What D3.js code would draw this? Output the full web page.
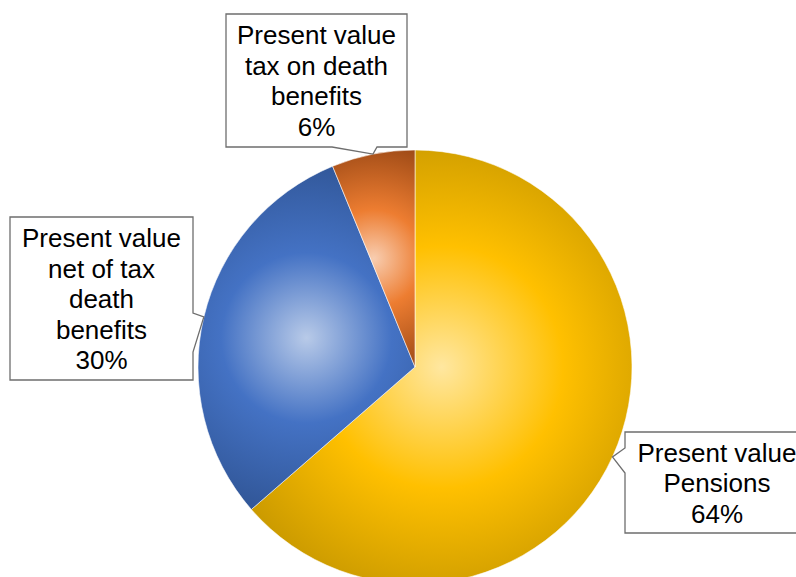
<!DOCTYPE html>
<html>
<head>
<meta charset="utf-8">
<script src="https://cdn.jsdelivr.net/npm/d3@7"></script>
<style>
  html, body { margin: 0; padding: 0; background: #fff; overflow: hidden; }
  svg { display: block; }
</style>
</head>
<body>
<div id="chart"></div>
<script>
// data
const categories = ["Pensions", "Net of tax death benefits", "Tax on death benefits"];
const values = [63.6, 30.2, 6.2];
const labelLines = [
    ["Present value", "Pensions"],
    ["Present value", "net of tax", "death", "benefits"],
    ["Present value", "tax on death", "benefits"]
];
const lightColors = ["#FFE7A0", "#B8CAE8", "#F8CDB0"];
const midColors = ["#FFC000", "#4472C4", "#ED7D31"];
const darkColors = ["#B48A00", "#2C4F8C", "#9E4A16"];

// callout boxes: [x, y, w, h], side with pointer, pointer base along that side
const callouts = [
    { box: [625, 432, 184, 101], side: "left", wedge: [448, 473] },
    { box: [10, 217, 183, 163], side: "right", wedge: [313, 352] },
    { box: [226, 14, 181, 133], side: "bottom", wedge: [332, 377] }
];

const width = 796, height = 577;
const cx = 415, cy = 367, radius = 217;

const svg = d3.select("#chart").append("svg")
    .attr("width", width).attr("height", height);
const defs = svg.append("defs");

const pie = d3.pie().sort(null).value(d => d);
const arcs = pie(values);
const arc = d3.arc().innerRadius(0).outerRadius(radius);

const g = svg.append("g").attr("transform", `translate(${cx},${cy})`);

// slices, each with its own radial gradient centred on the slice's bounding box
const slices = g.selectAll("path").data(arcs).enter().append("path")
    .attr("d", arc)
    .attr("stroke", "#ffffff").attr("stroke-width", 0.7).attr("stroke-opacity", 0.8);

slices.each(function(d, i) {
    const bb = this.getBBox();
    const gx = bb.x + bb.width / 2, gy = bb.y + bb.height / 2;
    const gr = Math.sqrt(bb.width * bb.width + bb.height * bb.height) / 2;
    const grad = defs.append("radialGradient")
        .attr("id", "grad" + i)
        .attr("gradientUnits", "userSpaceOnUse")
        .attr("cx", gx).attr("cy", gy).attr("r", gr)
        .attr("fx", gx).attr("fy", gy);
    grad.append("stop").attr("offset", "0%").attr("stop-color", lightColors[i]);
    grad.append("stop").attr("offset", "42%").attr("stop-color", midColors[i]);
    grad.append("stop").attr("offset", "100%").attr("stop-color", darkColors[i]);
    d3.select(this).attr("fill", `url(#grad${i})`);
});

// callout labels
const fmt = d3.format(".0%");
const total = d3.sum(values);
const lineH = 30.5;

arcs.forEach((d, i) => {
    const c = callouts[i];
    const [x, y, w, h] = c.box;
    const mid = (d.startAngle + d.endAngle) / 2;
    const tx = cx + radius * Math.sin(mid), ty = cy - radius * Math.cos(mid);
    const [a, b] = c.wedge;
    let pts;
    if (c.side === "bottom") {
        pts = [[x, y], [x + w, y], [x + w, y + h], [b, y + h], [tx, ty], [a, y + h], [x, y + h]];
    } else if (c.side === "right") {
        pts = [[x, y], [x + w, y], [x + w, a], [tx, ty], [x + w, b], [x + w, y + h], [x, y + h]];
    } else {
        pts = [[x, y], [x + w, y], [x + w, y + h], [x, y + h], [x, b], [tx, ty], [x, a]];
    }
    svg.append("path")
        .attr("d", d3.line()(pts) + "Z")
        .attr("fill", "#ffffff")
        .attr("stroke", "#6e6e6e").attr("stroke-width", 1.3);

    const lines = labelLines[i].concat([fmt(values[i] / total)]);
    const first = y + (h - (lines.length - 1) * lineH) / 2 + 9.5;
    const t = svg.append("text")
        .attr("text-anchor", "middle")
        .attr("font-family", "'Liberation Sans', Arial, sans-serif")
        .attr("font-size", "26px")
        .attr("fill", "#000");
    lines.forEach((s, k) => {
        t.append("tspan").attr("x", x + w / 2).attr("y", first + k * lineH).text(s);
    });
});
</script>
</body>
</html>
